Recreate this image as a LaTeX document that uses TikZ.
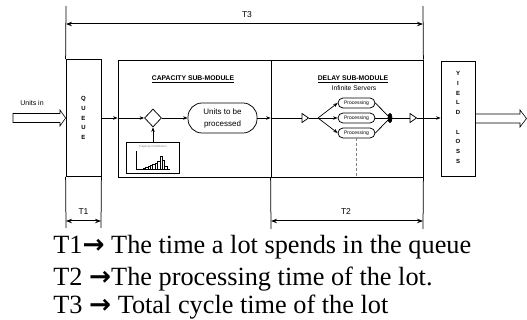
\documentclass[tikz,border=0pt]{standalone}
\usepackage{fontspec}
\setmainfont{Liberation Serif}
\setsansfont{Liberation Sans}
\newfontfamily\arrowfont{DejaVu Sans}
\usetikzlibrary{arrows.meta,shapes.geometric}

\tikzset{every picture/.style={line width=0.75pt}}
\tikzset{
  modbox/.style={draw, line width=0.8pt, inner sep=0pt},
  flow/.style={-{Stealth[length=4.5pt,width=3.5pt]}, line width=0.7pt},
  dimline/.style={line width=1pt, {Stealth[length=6pt,width=4.5pt]}-{Stealth[length=6pt,width=4.5pt]}},
  dimlabel/.style={font=\sffamily\fontsize{8.5}{9}\selectfont},
  procbox/.style={draw, rounded corners=5pt, minimum width=37pt, minimum height=10pt, inner sep=0pt, font=\sffamily\fontsize{5}{5}\selectfont},
  bigarrow/.style={line width=0.6pt},
  letters/.style={font=\sffamily\bfseries\fontsize{6}{9.7}\selectfont, align=center, inner sep=0pt},
  title/.style={font=\sffamily\bfseries\fontsize{6.8}{7}\selectfont},
  deftext/.style={anchor=base west, inner sep=0pt, font=\fontsize{26.3}{30}\selectfont},
}

\begin{document}
\begin{tikzpicture}[x=1pt,y=1pt,yscale=-1,xscale=1]
\useasboundingbox (0,0) rectangle (527,320);

% modules
\node [modbox, minimum width=35pt, minimum height=117pt] (queue) at (83.5,118) {};
\node [modbox, minimum width=153pt, minimum height=117pt] (capacity) at (194.5,118.5) {};
\node [modbox, minimum width=152pt, minimum height=117pt] (delay) at (347,118.5) {};
\node [modbox, minimum width=34pt, minimum height=115pt] (yield) at (458,118.5) {};

\node [letters] (queuetxt) at (83.5,118) {Q\\U\\E\\U\\E};
\node [letters] (yieldtxt) at (458,117.5) {Y\\I\\E\\L\\D\\[9.7pt]L\\O\\S\\S};
\node [title] (captitle) at (193,79) {\underline{CAPACITY SUB-MODULE}};
\node [title] (delaytitle) at (353,79) {\underline{DELAY SUB-MODULE}};
\node [font=\sffamily\fontsize{6.7}{7}\selectfont] (servers) at (354,88) {Infinite Servers};

% capacity sub-module
\node [draw, diamond, minimum width=17pt, minimum height=18pt, inner sep=0pt] (check) at (153,118) {};
\node [draw, rounded corners=14pt, minimum width=69pt, minimum height=30pt, align=center, font=\sffamily\fontsize{8}{12}\selectfont] (units) at (222.5,118) {Units to be\\processed};
\node [modbox, line width=0.7pt, minimum width=53pt, minimum height=31pt] (capdist) at (153,158.3) {};
\node [font=\sffamily\fontsize{3}{3}\selectfont, text=gray] (captxt) at (153,146.5) {Capacity Distribution};
\draw [line width=0.5pt] (136,151) -- (136,169) -- (170,169);
\draw [line width=0.4pt] (143,169) rectangle (145.4,168) (145.4,169) rectangle (147.8,167.5)
  (147.8,169) rectangle (150.2,166.5) (150.2,169) rectangle (152.6,165.5)
  (152.6,169) rectangle (155,164) (155,169) rectangle (157.4,163)
  (157.4,169) rectangle (159.8,161) (159.8,169) rectangle (162.2,156)
  (162.2,169) rectangle (164.6,160) (164.6,169) rectangle (167,166);

% delay sub-module
\coordinate (gin) at (302,118);
\coordinate (gout) at (308.5,118);
\coordinate (fork) at (318,118);
\coordinate (g2in) at (410,118);
\coordinate (g2out) at (416.5,118);
\draw [fill=white] (302,113.5) -- (gout) -- (302,122.5) -- cycle;
\draw [fill=white] (410,113.5) -- (g2out) -- (410,122.5) -- cycle;
\node [procbox] (proc1) at (356.5,103) {Processing};
\node [procbox] (proc2) at (356.5,118) {Processing};
\node [procbox] (proc3) at (356.5,133) {Processing};
\node [draw, fill=black, ellipse, minimum width=4pt, minimum height=9pt, inner sep=0pt] (join) at (390,118) {};

% flow
\coordinate (outtip) at (526.5,118.5);
\draw [bigarrow] (13,113.5) -- (60,113.5) -- (60,110) -- (queue.west) -- (60,126) -- (60,122.5) -- (13,122.5) -- cycle;
\draw [bigarrow] (yield.east |- 0,114) -- (520,114) -- (520,110) -- (outtip) -- (520,127) -- (520,123) -- (yield.east |- 0,123);
\node [font=\sffamily\fontsize{7}{8}\selectfont] (unitsin) at (32,103) {Units in};
\draw [flow] (queue.east) -- (capacity.west |- queue.east);
\draw [flow] (capacity.west |- queue.east) -- (check.west);
\draw [flow] (check.east) -- (units.west);
\draw [flow] (capdist.north) -- (check.south);
\draw [flow] (units.east) -- (delay.west |- units.east);
\draw (delay.west |- units.east) -- (gin);
\draw (gout) -- (fork);
\draw [flow] (fork) -- (proc1.west);
\draw [flow] (fork) -- (proc2.west);
\draw [flow] (fork) -- (proc3.west);
\draw (proc1.east) -- (join);
\draw (proc2.east) -- (join);
\draw (proc3.east) -- (join);
\draw (join) -- (g2in);
\draw [flow] (g2out) -- (yield.west |- g2out);
\draw [densely dashed, gray] (proc3.south) -- (proc3.south |- delay.south);

% times
\coordinate (t3a) at (66,6);
\coordinate (t3b) at (423,6);
\coordinate (t3l) at (66,24);
\coordinate (t3r) at (423,24);
\coordinate (t1a) at (66,228);
\coordinate (t1b) at (101,228);
\coordinate (t2a) at (271,229);
\coordinate (t2b) at (423,229);
\draw (t3a) -- (queue.north west);
\draw (t3b) -- (delay.north east);
\draw (queue.south west) -- (t1a);
\draw (queue.south east) -- (t1b);
\draw (delay.south west) -- (t2a);
\draw (delay.south east) -- (t2b);
\draw [dimline] (t3l) -- (t3r);
\draw [dimline] (66,221) -- (101,221);
\draw [dimline] (271,221) -- (423,221);
\node [dimlabel] (t3) at (247,15) {T3};
\node [dimlabel] (t1) at (83.5,211.5) {T1};
\node [dimlabel] (t2) at (346,211.5) {T2};

\node [deftext] (def1) at (53,254) {T1{\arrowfont\bfseries →} The time a lot spends in the queue};
\node [deftext] (def2) at (53,285) {T2 {\arrowfont\bfseries →}The processing time of the lot.};
\node [deftext] (def3) at (53,313) {T3 {\arrowfont\bfseries →} Total cycle time of the lot};

\end{tikzpicture}
\end{document}
